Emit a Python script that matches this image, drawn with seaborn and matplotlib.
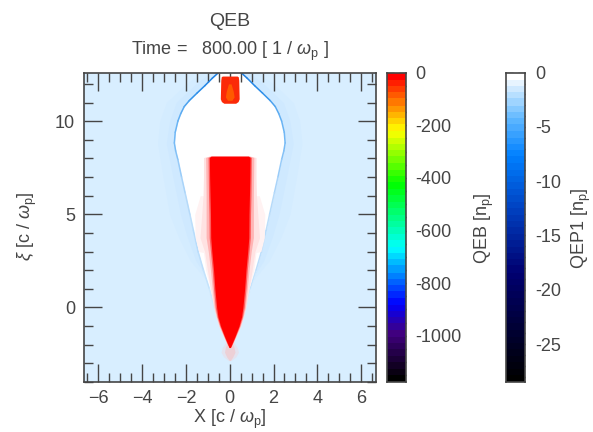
import numpy as np
import seaborn as sns
import matplotlib.pyplot as plt
from matplotlib.colors import LinearSegmentedColormap
from matplotlib.ticker import MultipleLocator

# outlines: xi and half width in x
bubble_xi = [12.6, 12.3, 11.9, 11.5, 11.1, 10.78, 10.4, 10.0, 9.4, 8.83, 8.4, 7.94, 7.0, 6.16, 5.0, 4.13, 2.97, 2.0, 1.0, 0.0, -1.0, -2.0]
bubble_w = [0.52, 0.8, 1.14, 1.5, 1.85, 2.08, 2.24, 2.37, 2.49, 2.53, 2.47, 2.37, 2.2, 2.04, 1.82, 1.66, 1.44, 1.2, 0.93, 0.7, 0.4, 0.1]
edge_colors = ['#1f7fe0', '#2485e4', '#2a8ce8', '#3594ea', '#4da2ee', '#5aaaf0', '#62aff2', '#6ab4f4', '#72b8f5', '#78bbf5', '#84c1f6', '#98cbf8',
               '#aad4f9', '#b6daf9', '#bcdefa', '#b8dcfb', '#bcdefb', '#c4e3fc', '#cfe9fd', '#d6edfe', '#d8eeff']
halo_xi = [12.6, 12.0, 11.0, 10.0, 8.8, 7.0, 5.0, 3.8, 2.5, 1.5]
halo_w = [1.3, 2.0, 2.9, 3.2, 3.3, 3.05, 2.75, 2.35, 1.8, 1.1]
halo2_w = [0.9, 1.55, 2.45, 2.75, 2.9, 2.6, 2.25, 1.95, 1.55, 1.0]

beam_xi = [8.12, 8.05, 7.0, 6.0, 5.0, 3.75, 3.0, 2.0, 1.0, 0.0, -0.5, -1.0, -1.55, -2.0, -2.15]
beam_w = [0.85, 0.93, 0.92, 0.9, 0.88, 0.87, 0.82, 0.74, 0.68, 0.6, 0.54, 0.42, 0.24, 0.08, 0.03]
fringe1_w = [0.87, 0.99, 0.98, 0.97, 0.95, 0.94, 0.88, 0.8, 0.74, 0.66, 0.58, 0.45, 0.26, 0.1, 0.03]
fringe2_w = [0.92, 1.1, 1.09, 1.08, 1.08, 1.08, 0.98, 0.88, 0.8, 0.71, 0.61, 0.48, 0.28, 0.11, 0.04]
fringe3_w = [0.95, 1.2, 1.2, 1.22, 1.28, 1.36, 1.15, 1.02, 0.88, 0.74, 0.63, 0.5, 0.3, 0.12, 0.04]
haze_xi = [6.0, 5.0, 3.75, 3.0, 2.95, 2.0, 1.0]
haze_w = [1.35, 1.6, 1.58, 1.42, 1.2, 1.1, 0.88]

front_xi = [12.42, 12.38, 12.2, 11.2, 11.05, 10.96]
front_w = [0.34, 0.39, 0.41, 0.43, 0.38, 0.27]
core_xi = [12.0, 11.6, 11.3, 11.12]
core_w = [0.06, 0.16, 0.2, 0.1]
tail_xi = [-1.8, -2.15, -2.4, -2.65, -2.85]
tail_w = [0.16, 0.34, 0.4, 0.28, 0.06]
tail2_w = [0.08, 0.2, 0.24, 0.14, 0.02]

cb1_colors = ['#000000', '#400080', '#0000ff', '#00ffff', '#00ff00', '#ffff00', '#ff0000']
cb1_stops = [-1176, -1000, -884, -668, -421, -212, 0]
cb1_ticks = [0, -200, -400, -600, -800, -1000]
cb2_colors = ['#000000', '#000070', '#0040c0', '#0080ff', '#60b8ff', '#ffffff']
cb2_stops = [-28.5, -18.5, -12.5, -7.5, -4, 0]
cb2_ticks = [0, -5, -10, -15, -20, -25]

sns.set_theme(style='ticks')
plt.rcParams['font.family'] = ['Liberation Sans', 'DejaVu Sans']
plt.rcParams['mathtext.fontset'] = 'custom'
plt.rcParams['mathtext.rm'] = 'Liberation Sans'
plt.rcParams['mathtext.it'] = 'Liberation Sans:italic'
ink = '#454545'
W, H = 593, 432


def px_axes(fig, left, top, right, bottom):
    return fig.add_axes([left / W, 1 - bottom / H, (right - left) / W, (bottom - top) / H])


fig = plt.figure(figsize=(W / 100, H / 100), dpi=100)
ax = px_axes(fig, 83.5, 72.7, 376, 382)
ax.set_facecolor('#d8eeff')
ax.set_xlim(-6.68, 6.68)
ax.set_ylim(-4.0, 12.6)


def fill(xi, w, color, z):
    ax.fill_betweenx(xi, -np.array(w), np.array(w), color=color, lw=0, zorder=z)


fill(halo_xi, halo_w, '#d4ecff', 1)
fill(halo_xi, halo2_w, '#cfe9ff', 1.1)
fill(bubble_xi, bubble_w, '#ffffff', 2)

# bubble sheath, darker towards the front
for i, col in enumerate(edge_colors):
    for sgn in (-1, 1):
        sns.lineplot(x=[sgn * bubble_w[i], sgn * bubble_w[i + 1]], y=[bubble_xi[i], bubble_xi[i + 1]],
                     sort=False, estimator=None, color=col, lw=1.1, ax=ax, zorder=3)

fill(haze_xi, haze_w, '#fff2f2', 3.5)
fill(tail_xi, tail_w, '#e3e3ef', 4)
fill(tail_xi, tail2_w, '#edd0d6', 4.05)
fill(beam_xi, fringe3_w, '#ffe2e2', 4.1)
fill(beam_xi, fringe2_w, '#ffb4b4', 4.2)
fill(beam_xi, fringe1_w, '#ff5c5c', 4.3)
fill(beam_xi, beam_w, '#ff0000', 4.4)
fill(front_xi, front_w, '#fb2a08', 4.4)
fill(core_xi, core_w, '#ff5a00', 4.5)

ax.set_xticks(np.arange(-6, 7, 2))
ax.set_yticks([0, 5, 10])
ax.xaxis.set_minor_locator(MultipleLocator(0.5))
ax.yaxis.set_minor_locator(MultipleLocator(1))
ax.tick_params(which='major', direction='in', length=13, width=1, top=True, right=True,
               color=ink, labelcolor=ink, labelsize=13, pad=6)
ax.tick_params(which='minor', direction='in', length=6.5, width=1, top=True, right=True, color=ink)
for s in ax.spines.values():
    s.set_color(ink)
    s.set_linewidth(1.2)
    s.set_zorder(7)
ax.set_axisbelow(False)
ax.set_xlabel(r'X [c / $\mathit{\omega}_{\mathrm{p}}$]', fontsize=13, color=ink, labelpad=0.5)
fig.text(27 / W, 1 - 226 / H, r'$\mathit{\xi}$ [c / $\mathit{\omega}_{\mathrm{p}}$]', rotation=90,
         fontsize=13, color=ink, ha='center', va='center')
fig.text(230 / W, 1 - 21 / H, 'QEB', fontsize=14, color=ink, ha='center', va='center')
fig.text(230 / W, 1 - 51 / H, r'Time =   800.00 [ 1 / $\mathit{\omega}_{\mathrm{p}}$ ]', fontsize=13,
         color=ink, ha='center', va='center')


def colorbar(left, right, stops, colors, ticks, minor, label, label_x):
    cax = px_axes(fig, left, 72.7, right, 382)
    lo, hi = stops[0], stops[-1]
    pos = [(s - lo) / (hi - lo) for s in stops]
    cmap = LinearSegmentedColormap.from_list('cb', list(zip(pos, colors)), N=48)
    levels = np.linspace(hi, lo, 300).reshape(-1, 1)
    sns.heatmap(levels, cmap=cmap, vmin=lo, vmax=hi, cbar=False, ax=cax,
                xticklabels=False, yticklabels=False)
    to_y = lambda v: (hi - v) / (hi - lo) * 300
    cax.set_yticks([to_y(v) for v in ticks])
    cax.set_yticklabels([str(v) for v in ticks], rotation=0)
    cax.set_yticks([to_y(v) for v in np.arange(hi, lo, -minor)], minor=True)
    cax.yaxis.tick_right()
    cax.tick_params(which='major', direction='in', length=5, width=1, left=True, right=True,
                    color=ink, labelcolor=ink, labelsize=13, pad=7)
    cax.tick_params(which='minor', direction='in', length=3, width=1, left=True, right=True, color=ink)
    for s in cax.spines.values():
        s.set_visible(True)
        s.set_color(ink)
        s.set_linewidth(1.2)
    fig.text(label_x / W, 1 - 228 / H, label, rotation=90, fontsize=13, color=ink, ha='center', va='center')


colorbar(387.3, 405.7, cb1_stops, cb1_colors, cb1_ticks, 50, r'QEB [n$_{\mathrm{p}}$]', 484)
colorbar(506, 525.3, cb2_stops, cb2_colors, cb2_ticks, 1, r'QEP1 [n$_{\mathrm{p}}$]', 581)

fig.savefig('out.png', dpi=100)
